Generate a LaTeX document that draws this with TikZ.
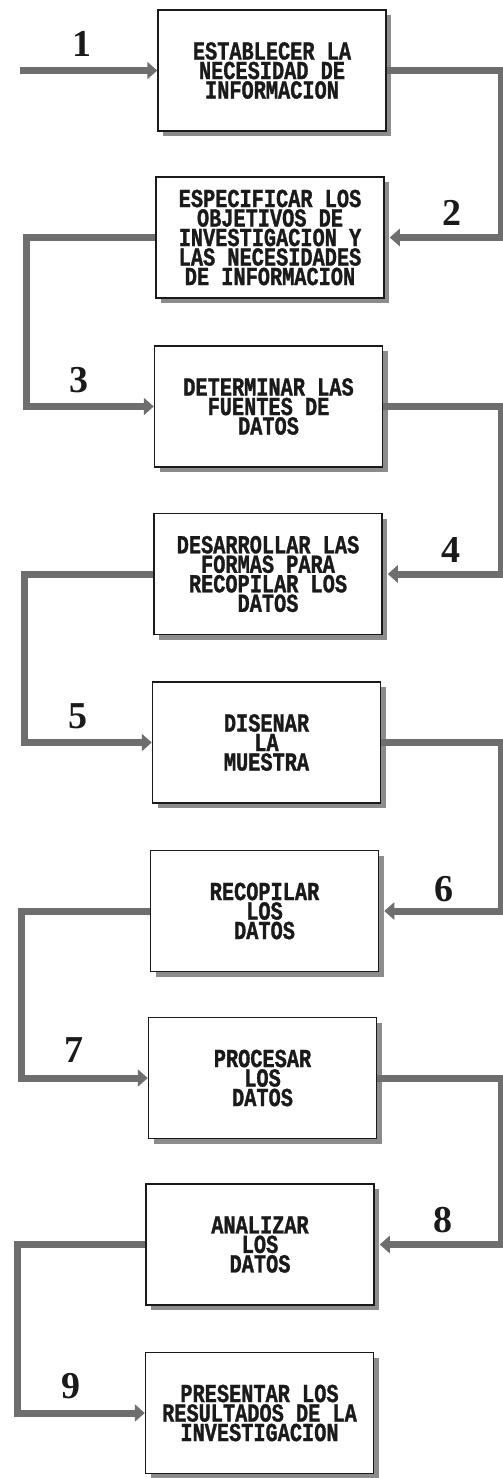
\documentclass[tikz,border=0pt]{standalone}
\usepackage{fontspec}
\newfontfamily\boxfont[FakeStretch=0.78, FakeBold=1.2]{Liberation Mono}
\newfontfamily\numfont{Liberation Serif}
\usetikzlibrary{arrows.meta, shadows}
\definecolor{cflow}{HTML}{6E6E6E}
\definecolor{cshade}{HTML}{8C8C8C}
\definecolor{cink}{HTML}{1A1A1A}
\tikzset{
  every picture/.style={line width=1.5pt},
  stepbox/.style={draw=cink, fill=white, minimum width=228pt, minimum height=121pt, align=center, inner sep=4pt,
    font=\boxfont\bfseries\fontsize{26}{19.5}\selectfont, text=cink,
    drop shadow={shadow xshift=5pt, shadow yshift=-5pt, fill=cshade, opacity=1}},
  flow/.style={draw=cflow, line width=7pt, line join=miter},
  flowin/.style={flow, -{Triangle[length=10pt, width=17pt]}},
  num/.style={font=\numfont\bfseries\fontsize{38}{40}\selectfont, text=cink},
}

\begin{document}
\begin{tikzpicture}[x=1pt, y=-1pt]
  \useasboundingbox (0,0) rectangle (503,1478);
  % the nine steps
  \node[stepbox] (b1) at (272,70.5) {ESTABLECER LA\\NECESIDAD DE\\INFORMACION};
  \node[stepbox] (b2) at (270,237.5) {ESPECIFICAR LOS\\OBJETIVOS DE\\INVESTIGACION Y\\LAS NECESIDADES\\DE INFORMACION};
  \node[stepbox] (b3) at (268.5,406.5) {DETERMINAR LAS\\FUENTES DE\\DATOS};
  \node[stepbox] (b4) at (268,574) {DESARROLLAR LAS\\FORMAS PARA\\RECOPILAR LOS\\DATOS};
  \node[stepbox] (b5) at (266.5,742.5) {DISENAR\\LA\\MUESTRA};
  \node[stepbox] (b6) at (264.5,911) {RECOPILAR\\LOS\\DATOS};
  \node[stepbox] (b7) at (262.5,1078) {PROCESAR\\LOS\\DATOS};
  \node[stepbox] (b8) at (260,1244.5) {ANALIZAR\\LOS\\DATOS};
  \node[stepbox] (b9) at (259.5,1413) {PRESENTAR LOS\\RESULTADOS DE LA\\INVESTIGACION};
  % rails
  \coordinate (rr) at (501,0);
  \coordinate (la) at (26,0);
  \coordinate (lb) at (24,0);
  \coordinate (lc) at (21,0);
  \coordinate (ld) at (17,0);
  \coordinate (in1) at (20,70.5);
  % connectors
  \draw[flowin] (in1) -- (b1.west);
  \foreach \a/\b in {b1/b2, b3/b4, b5/b6, b7/b8}
    \draw[flowin] (\a.east) -- (\a.east -| rr) -- (\b.east -| rr) -- ([xshift=5pt]\b.east);
  \foreach \a/\b/\r in {b2/b3/la, b4/b5/lb, b6/b7/lc, b8/b9/ld}
    \draw[flowin] (\a.west) -- (\a.west -| \r) -- (\b.west -| \r) -- (\b.west);
  % step numbers
  \foreach \n/\x/\y in {1/82/44, 2/452/213, 3/79/380, 4/451/550, 5/78/716, 6/444/889, 7/74/1050, 8/443/1220, 9/71/1386}
    \node[num] (n\n) at (\x,\y) {\n};
\end{tikzpicture}
\end{document}
